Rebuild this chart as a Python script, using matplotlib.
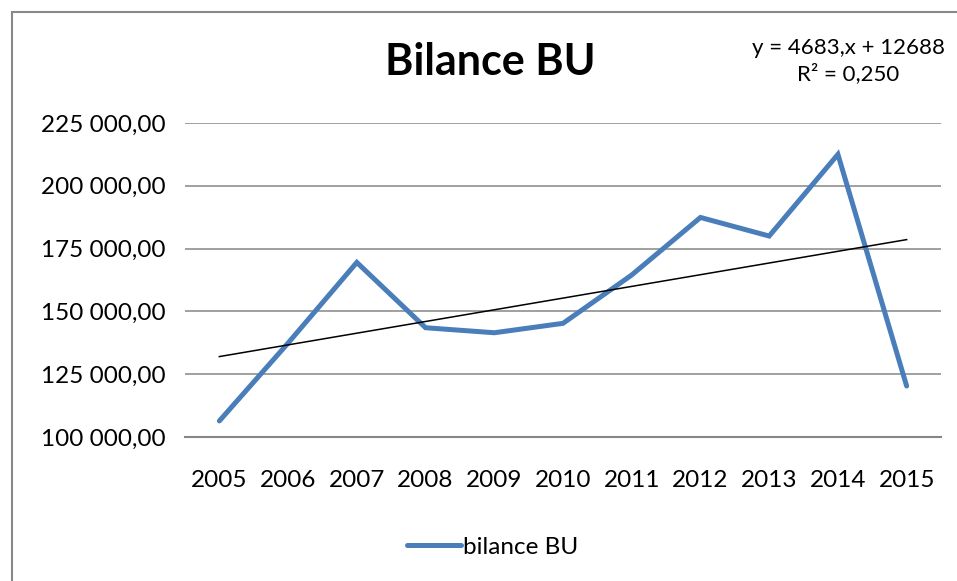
import numpy as np
import matplotlib
matplotlib.use("Agg")
import matplotlib.pyplot as plt
from matplotlib.patches import Rectangle
from matplotlib.ticker import FuncFormatter

years = ["2005", "2006", "2007", "2008", "2009", "2010",
         "2011", "2012", "2013", "2014", "2015"]
bilance = [106400, 137400, 169500, 143500, 141500, 145250,
           164500, 187400, 180000, 212500, 120300]
trend_text = "y = 4683,x + 12688\nR² = 0,250"

plt.rcParams["font.family"] = ["Lato", "DejaVu Sans"]

fig = plt.figure(figsize=(9.57, 5.81), dpi=100)
ax = fig.add_axes([185 / 957, 144 / 581, 756 / 957, 314 / 581])

x = np.arange(len(years))
ax.plot(x, bilance, color="#4a7ebb", lw=3.6, solid_capstyle="round",
        solid_joinstyle="miter", label="bilance BU", zorder=3)

# linear trend fitted on the series (Excel style)
k, q = np.polyfit(x + 1, bilance, 1)
ax.plot(x, k * (x + 1) + q, color="black", lw=1.1, zorder=4)

ax.set_xlim(-0.5, len(years) - 0.5)
ax.set_ylim(100000, 225000)
ax.set_yticks(np.arange(100000, 225001, 25000))
ax.yaxis.set_major_formatter(FuncFormatter(
    lambda v, p: f"{v:,.2f}".replace(",", " ").replace(".", ",")))
ax.set_xticks(x)
ax.set_xticklabels(years)
ax.grid(axis="y", color="#868686", lw=1.1)
ax.set_axisbelow(True)
for s in ["left", "right", "top"]:
    ax.spines[s].set_visible(False)
ax.spines["bottom"].set_color("#868686")
ax.spines["bottom"].set_linewidth(1.5)
ax.tick_params(length=0, labelsize=17.5, colors="black")
ax.tick_params(axis="x", pad=24)
ax.tick_params(axis="y", pad=14)

fig.text(490 / 957, 1 - 62 / 581, "Bilance BU", fontsize=31,
         fontweight="bold", ha="center", va="center")
fig.text(848 / 957, 1 - 61 / 581, trend_text, fontsize=16,
         ha="center", va="center", linespacing=1.35)

fig.legend(loc="center", bbox_to_anchor=(493 / 957, 1 - 547 / 581),
           frameon=False, fontsize=17.5, handlelength=2.2, handletextpad=0.1)

fig.patches.append(Rectangle((12 / 957, -0.1), 1.2, 1.1 - 12 / 581,
                             transform=fig.transFigure, fill=False,
                             edgecolor="#888888", lw=1.5))

fig.savefig("out.png", dpi=100)
